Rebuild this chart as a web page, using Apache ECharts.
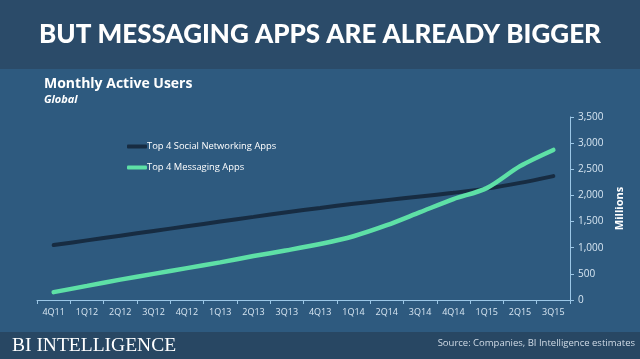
<!DOCTYPE html>
<html><head><meta charset="utf-8">
<script src="https://cdn.jsdelivr.net/npm/echarts@6/dist/echarts.min.js"></script>
<style>html,body{margin:0;padding:0;background:#2e5a7f}#c{width:640px;height:359px}</style>
</head><body><div id="c"></div>
<script>
const categories = ['4Q11','1Q12','2Q12','3Q12','4Q12','1Q13','2Q13','3Q13','4Q13','1Q14','2Q14','3Q14','4Q14','1Q15','2Q15','3Q15'];
const socialApps = [1050,1140,1230,1320,1410,1500,1590,1680,1760,1840,1910,1980,2050,2130,2240,2370];
const messagingApps = [150,270,390,500,610,720,840,950,1070,1220,1430,1680,1930,2140,2560,2870];
const yTicks = [0,500,1000,1500,2000,2500,3000,3500];

const chart = echarts.init(document.getElementById('c'), null, {renderer:'canvas'});
chart.setOption({
  backgroundColor: '#2e5a7f',
  animation: false,
  graphic: [
    {type:'rect', shape:{x:0,y:0,width:640,height:69}, style:{fill:'#2b4b69'}, z:-1},
    {type:'rect', shape:{x:0,y:332,width:640,height:27}, style:{fill:'#284763'}, z:-1},
    {type:'text', left:'center', top:22, style:{text:'BUT MESSAGING APPS ARE ALREADY BIGGER', fill:'#ffffff', font:'900 26px Lato, "Open Sans", sans-serif'}},
    {type:'text', left:44, top:77, style:{text:'Monthly Active Users', fill:'#ffffff', font:'bold 14px "Open Sans", Lato, sans-serif'}},
    {type:'text', left:44, top:94, style:{text:'Global', fill:'#ffffff', font:'italic bold 11px "Open Sans", Lato, sans-serif'}},
    {type:'text', left:12, top:336, style:{text:'BI INTELLIGENCE', fill:'#ffffff', font:'19.5px "Liberation Serif", "DejaVu Serif", serif'}},
    {type:'text', right:5, top:338, style:{text:'Source: Companies, BI Intelligence estimates', fill:'#d0dbe6', font:'9.5px "Open Sans", Lato, sans-serif'}}
  ],
  legend: {
    orient:'vertical', left:122, top:137, itemGap:12,
    icon:'roundRect', itemWidth:20, itemHeight:4,
    textStyle:{color:'#ffffff', fontSize:9.4, fontFamily:'"Open Sans", Lato, sans-serif', padding:[0,0,0,-5]},
    data:['Top 4 Social Networking Apps','Top 4 Messaging Apps']
  },
  grid: {left:37, right:70, top:117, bottom:59},
  xAxis: {
    type:'category', data:categories, boundaryGap:true,
    axisLine:{lineStyle:{color:'#9cc7e6', width:1}},
    axisTick:{show:true, length:4, lineStyle:{color:'#9cc7e6'}},
    axisLabel:{color:'#d7e6f2', fontSize:9, fontFamily:'"Open Sans", Lato, sans-serif', margin:8, interval:0}
  },
  yAxis: {
    type:'value', position:'right', min:0, max:3500, interval:500,
    name:'Millions', nameLocation:'middle', nameGap:35, nameRotate:90,
    nameTextStyle:{color:'#ffffff', fontSize:11, fontWeight:'bold', fontFamily:'"Open Sans", Lato, sans-serif'},
    axisLine:{show:true, lineStyle:{color:'#9cc7e6'}},
    axisTick:{show:true, length:4, lineStyle:{color:'#9cc7e6'}},
    splitLine:{show:false},
    axisLabel:{color:'#d7e6f2', fontSize:10, fontFamily:'"Open Sans", Lato, sans-serif', margin:8,
      formatter:function(v){return yTicks.indexOf(v)>=0 ? v.toLocaleString('en-US') : '';}}
  },
  series: [
    {name:'Top 4 Social Networking Apps', type:'line', data:socialApps, symbol:'none', smooth:0.3,
     lineStyle:{color:'#172c42', width:4, cap:'round'}, itemStyle:{color:'#172c42'}},
    {name:'Top 4 Messaging Apps', type:'line', data:messagingApps, symbol:'none', smooth:0.3,
     lineStyle:{color:'#5ee0a6', width:4.5, cap:'round'}, itemStyle:{color:'#5ee0a6'}}
  ]
});
</script></body></html>
